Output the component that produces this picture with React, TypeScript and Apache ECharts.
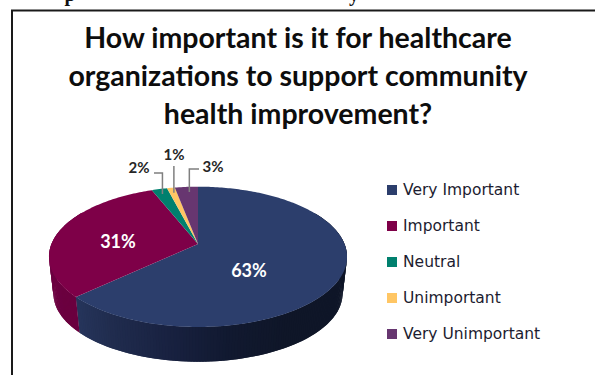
import React, { useEffect, useRef } from "react";
import * as echarts from "echarts";

// Survey responses, in percent
const categories = ["Very Important", "Important", "Neutral", "Unimportant", "Very Unimportant"];
const percentages = [63, 31, 2, 1, 3];
const topColors = ["#2c3e6c", "#7e0048", "#00806e", "#ffc664", "#673670"];
const titleLines = ["How important is it for healthcare", "organizations to support community", "health improvement?"];

// Pie geometry: a tilted disc with perspective, apex slightly above the ellipse centre
const CX = 198;
const APEX_Y = 244;
const A = 146.5;
const B = 67.8;
const K = 0.183;
const FLOOR_SCALE = 0.97;
const FLOOR_DROP = 37.2;

const rim = (theta: number): [number, number] => {
  const u = Math.sin(theta);
  const v = Math.cos(theta);
  const w = 1 + K * v;
  return [CX + (A * u) / w, APEX_Y - (B * v) / w];
};
const floor = (p: [number, number]): [number, number] => [
  CX + (p[0] - CX) * FLOOR_SCALE,
  APEX_Y + (p[1] - APEX_Y) * FLOOR_SCALE + FLOOR_DROP,
];

const total = percentages.reduce((s, v) => s + v, 0);
const startShare = (i: number) => percentages.slice(0, i).reduce((s, v) => s + v, 0) / total;

// Label placement for each slice, relative to the apex; small slices get an elbow leader
const labelSpots = [
  { dx: 51, dy: 26, color: "#ffffff", size: 18 },
  { dx: -80, dy: -3, color: "#ffffff", size: 18 },
  { dx: -59, dy: -77, color: "#262626", size: 15, elbow: [154, 173] },
  { dx: -24, dy: -90, color: "#262626", size: 15, elbow: null },
  { dx: 15, dy: -78, color: "#262626", size: 15, elbow: [199, 169] },
];
// Side-wall shade from the left of the disc to its right
const wallShades = [
  ["#2a3b64", "#202c4e", "#182140", "#111930", "#0f1628", "#0f1628"],
  ["#6c0040", "#5e0038", "#5e0038"],
  ["#006050", "#006050", "#006050"],
  ["#c09040", "#c09040", "#c09040"],
  ["#4c2854", "#4c2854", "#4c2854"],
];

const wallColor = (index: number, x: number) => {
  const f = Math.min(1, Math.max(0, (x - (CX - A)) / (2 * A)));
  return echarts.color.lerp(f, wallShades[index]);
};

const drawSlice = (index: number) => (_params: any, api: any) => {
  const value = api.value(0);
  const t0 = startShare(index) * Math.PI * 2;
  const t1 = t0 + (value / total) * Math.PI * 2;
  const steps = Math.max(2, Math.ceil(((t1 - t0) * 180) / Math.PI));
  const arc: [number, number][] = [];
  for (let s = 0; s <= steps; s++) arc.push(rim(t0 + ((t1 - t0) * s) / steps));

  const children: any[] = [];
  // The wall is a strip of overlapping quads along the front of the rim
  for (let s = 1; s <= steps; s++) {
    const t = t0 + ((t1 - t0) * s) / steps;
    if (Math.cos(t) >= 0.5) continue;
    const a = arc[s - 1];
    const b = arc[Math.min(steps, s + 1)];
    children.push({
      type: "polygon",
      z2: 1,
      shape: { points: [a, b, floor(b), floor(a)] },
      style: { fill: wallColor(index, (a[0] + b[0]) / 2) },
    });
  }
  children.push({
    type: "polygon",
    z2: 2,
    shape: { points: [[CX, APEX_Y], ...arc] },
    style: { fill: topColors[index] },
  });

  const spot = labelSpots[index];
  const lx = CX + spot.dx;
  const ly = APEX_Y + spot.dy;
  if (spot.size < 18) {
    const end = rim((t0 + t1) / 2);
    const anchor: [number, number] = [end[0] + 3, end[1] + 5];
    const points = spot.elbow
      ? [spot.elbow, [anchor[0], spot.elbow[1]], anchor]
      : [[anchor[0], ly + 12], anchor];
    children.push({
      type: "polyline",
      z2: 3,
      shape: { points },
      style: { stroke: "#7f7f7f", lineWidth: 1.5, fill: null },
    });
  }
  children.push({
    type: "text",
    z2: 4,
    style: {
      text: `${value}%`,
      x: lx,
      y: ly,
      fill: spot.color,
      font: `bold ${spot.size}px Lato`,
      align: "center",
      verticalAlign: "middle",
    },
  });
  return { type: "group", children };
};

export default function App() {
  const ref = useRef<HTMLDivElement>(null);
  useEffect(() => {
    const chart = echarts.init(ref.current!, undefined, { renderer: "svg" });
    chart.setOption({
      animation: false,
      backgroundColor: "#ffffff",
      title: {
        text: titleLines.join("\n"),
        left: 293,
        top: 13,
        textAlign: "center",
        textStyle: { fontFamily: "Lato", fontWeight: "bold", fontSize: 28.5, lineHeight: 38, color: "#0d0d0d" },
      },
      legend: {
        orient: "vertical",
        left: 382,
        top: 177,
        itemWidth: 10,
        itemHeight: 10,
        itemGap: 20,
        icon: "rect",
        data: categories,
        textStyle: { fontFamily: "DejaVu Sans", fontSize: 15.5, color: "#1c1c30", padding: [0, 0, 0, 1], lineHeight: 16 },
      },
      graphic: [
        { type: "line", shape: { x1: 12, y1: 10, x2: 12, y2: 375 }, style: { stroke: "#1a1a1a", lineWidth: 2 } },
        { type: "line", shape: { x1: 11, y1: 10.5, x2: 595, y2: 10.5 }, style: { stroke: "#1a1a1a", lineWidth: 2 } },
        // Descenders of the heading line above the framed chart
        { type: "text", style: { text: "p", x: 70, y: 4, fill: "#111", font: "bold 20px 'Liberation Serif'", align: "center", verticalAlign: "bottom" } },
        { type: "text", style: { text: "y", x: 354, y: 4, fill: "#111", font: "bold 20px 'Liberation Serif'", align: "center", verticalAlign: "bottom" } },
      ],
      series: categories.map((name, i) => ({
        type: "custom",
        name,
        coordinateSystem: "none",
        itemStyle: { color: topColors[i] },
        data: [[percentages[i]]],
        renderItem: drawSlice(i),
      })),
    });
    return () => chart.dispose();
  }, []);
  return <div ref={ref} style={{ position: "absolute", left: 0, top: 0, width: 595, height: 375 }} />;
}
